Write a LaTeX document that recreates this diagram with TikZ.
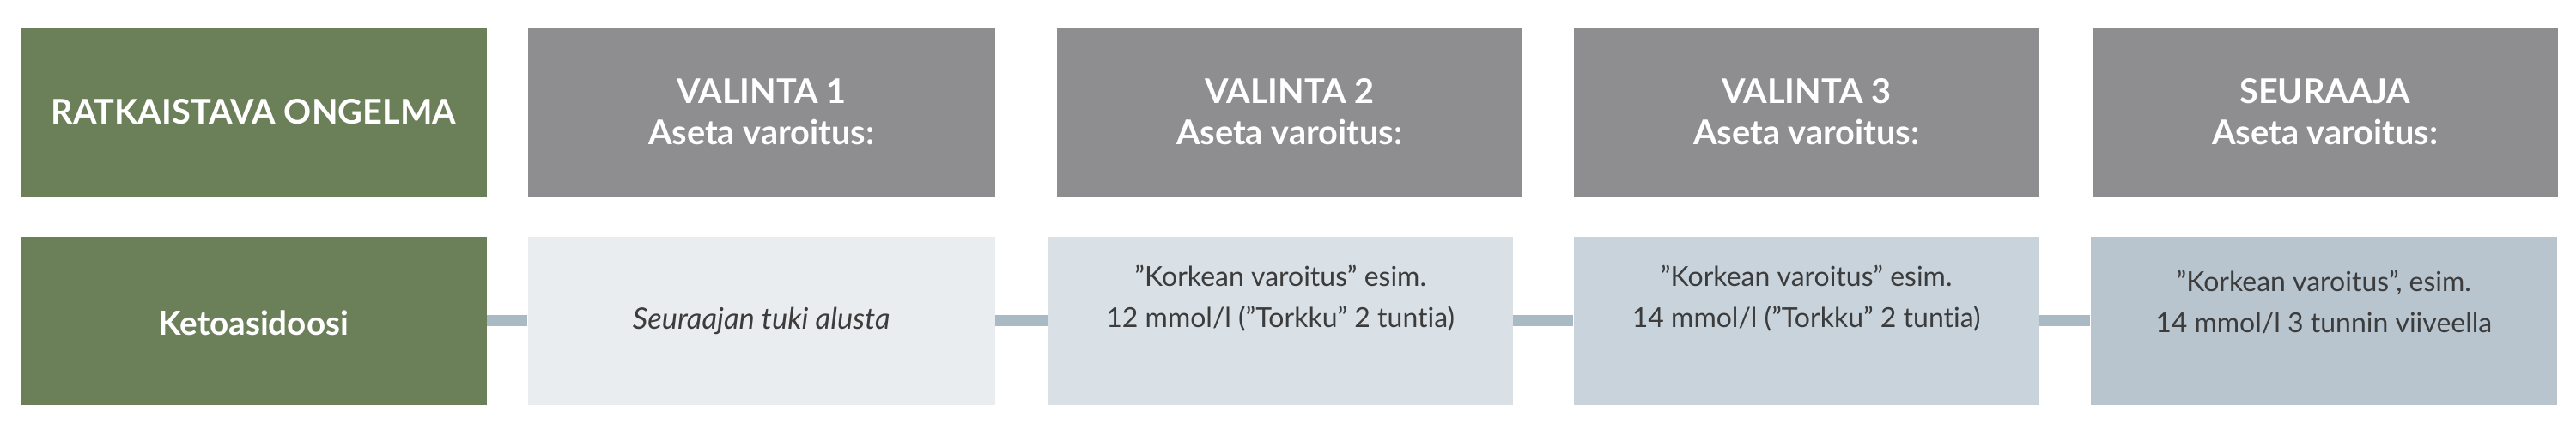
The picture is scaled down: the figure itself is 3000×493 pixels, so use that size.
\documentclass[tikz,border=0pt]{standalone}
\usepackage{fontspec}
\setmainfont{Lato}[Ligatures=NoCommon]
\definecolor{probgreen}{HTML}{6B7F58}
\definecolor{choicegray}{HTML}{8E8E90}
\definecolor{stepa}{HTML}{E9EDF0}
\definecolor{stepb}{HTML}{D9E0E6}
\definecolor{stepc}{HTML}{C8D3DC}
\definecolor{stepd}{HTML}{B8C5CF}
\definecolor{linkgray}{HTML}{A9BAC5}
\definecolor{bodytext}{HTML}{3C3C3C}

\begin{document}
\begin{tikzpicture}[x=0.1mm,y=-0.1mm,
head/.style={%
anchor=west,
fill=choicegray,
text=white,
font=\fontsize{11.3}{13.7}\selectfont\bfseries,
align=center,
inner sep=0pt,
minimum height=19.6mm,
minimum width=54.2mm,
},
prob/.style={%
head,
fill=probgreen,
},
opt/.style={%
anchor=west,
text=bodytext,
font=\fontsize{9.1}{13.7}\selectfont,
align=center,
inner sep=0pt,
minimum height=19.6mm,
minimum width=54.2mm,
},
link/.style={%
draw=linkgray,
line width=1.3mm,
},
]
\useasboundingbox(0,0)rectangle(3000,493);
%% top row
\node[prob,minimum width=54.3mm]at(23,130.5)(probhead){RATKAISTAVA ONGELMA};
\node[head,minimum width=54.4mm]at(614,130.5)(val1){VALINTA 1\\Aseta varoitus:};
\node[head]at(1230,130.5)(val2){VALINTA 2\\Aseta varoitus:};
\node[head]at(1832,130.5)(val3){VALINTA 3\\Aseta varoitus:};
\node[head]at(2436,130.5)(seur){SEURAAJA\\Aseta varoitus:};
%% bottom row
\node[prob,minimum width=54.3mm,font=\fontsize{11}{13}\selectfont\bfseries,text height=3.5mm]at(23,373.5)(keto){Ketoasidoosi};
\node[opt,fill=stepa,minimum width=54.4mm,font=\fontsize{9.8}{13.7}\selectfont\itshape]at(614,373.5)(tuki){Seuraajan tuki alusta};
\node[opt,fill=stepb,minimum width=54.1mm,text depth=5.7mm]at(1220,373.5)(kork2){”Korkean varoitus” esim.\\12 mmol/l (”Torkku” 2 tuntia)};
\node[opt,fill=stepc,text depth=5.7mm]at(1832,373.5)(kork3){”Korkean varoitus” esim.\\14 mmol/l (”Torkku” 2 tuntia)};
\node[opt,fill=stepd,minimum width=54.3mm,text depth=4.5mm]at(2434,373.5)(kork4){”Korkean varoitus”, esim.\\14 mmol/l 3 tunnin viiveella};
%% connectors
\draw[link](keto)--(tuki);
\draw[link](tuki)--(kork2);
\draw[link](kork2)--(kork3);
\draw[link](kork3)--(kork4);
\end{tikzpicture}
\end{document}
